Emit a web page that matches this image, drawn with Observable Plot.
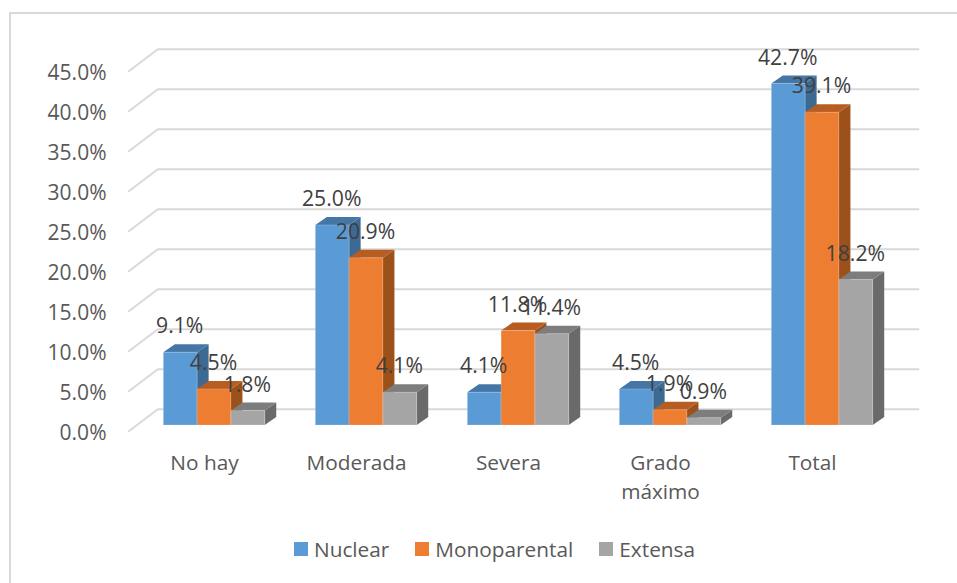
<!DOCTYPE html>
<html>
<head>
<meta charset="utf-8">
<script src="https://cdn.jsdelivr.net/npm/d3@7"></script>
<script src="https://cdn.jsdelivr.net/npm/@observablehq/plot@0.6"></script>
<style>
  html, body { margin: 0; padding: 0; background: #fff; }
  #frame { position: absolute; left: 9px; top: 12px; width: 948px; height: 571px; border-left: 2px solid #d9d9d9; border-top: 2px solid #d9d9d9; box-sizing: border-box; }
  #chart { position: absolute; left: 0; top: 0; }
  #chart svg { display: block; background: transparent; }
  #legend { position: absolute; left: 294px; top: 535px; display: flex; align-items: center; font: 20.8px "Open Sans", sans-serif; color: #595959; }
  #legend span.sw { display: inline-block; width: 14px; height: 14px; margin-right: 6px; }
  #legend span.lab { margin-right: 26px; }
</style>
</head>
<body>
<div id="frame"></div>
<div id="chart"></div>
<div id="legend"></div>
<script>
const categories = ["No hay", "Moderada", "Severa", "Grado\nmáximo", "Total"];
const seriesNames = ["Nuclear", "Monoparental", "Extensa"];
const nuclear = [9.1, 25.0, 4.1, 4.5, 42.7];
const monoparental = [4.5, 20.9, 11.8, 1.9, 39.1];
const extensa = [1.8, 4.1, 11.4, 0.9, 18.2];
const yTicks = [0, 5, 10, 15, 20, 25, 30, 35, 40, 45];
const frontColors = ["#5b9bd5", "#ed7d31", "#a5a5a5"];
const topColors = ["#4477a5", "#b85d21", "#7d7d7d"];
const sideColors = ["#3c6a93", "#9c501a", "#6a6a6a"];

const seriesValues = [nuclear, monoparental, extensa];

// Geometry in data units: one category = 1 on x, one percent = 1 on y.
const groupStart = -0.3335;
const barW = 0.2224;
const depthX = 0.0757;
const depthY = 1;

const bars = seriesValues.map((vals, j) => vals.map((v, i) => {
  const x1 = i + groupStart + j * barW;
  return { i, j, v, x1, x2: x1 + barW };
}));

const backLeft = (157.3 - 214) / 152, frontLeft = (128.3 - 214) / 152, backRight = (918 - 214) / 152;
const wallLines = yTicks.flatMap(t => [
  { t, x: frontLeft, y: t - 0.71 },
  { t, x: backLeft, y: t + 2.04 },
  { t, x: backRight, y: t + 2.04 }
]);

const barMarks = bars.flatMap((row, j) => {
  const sides = row.flatMap(b => [
    { id: b.i, x: b.x2, y1: 0, y2: b.v },
    { id: b.i, x: b.x2 + depthX, y1: depthY, y2: b.v + depthY }
  ]);
  const tops = row.flatMap(b => [
    { id: b.i, x: b.x1, y1: b.v, y2: b.v },
    { id: b.i, x: b.x1 + depthX, y1: b.v, y2: b.v + depthY },
    { id: b.i, x: b.x2, y1: b.v, y2: b.v + depthY },
    { id: b.i, x: b.x2 + depthX, y1: b.v + depthY, y2: b.v + depthY }
  ]);
  return [
    Plot.areaY(sides, { x: "x", y1: "y1", y2: "y2", z: "id", fill: sideColors[j], curve: "linear" }),
    Plot.areaY(tops, { x: "x", y1: "y1", y2: "y2", z: "id", fill: topColors[j], curve: "linear" }),
    Plot.rect(row, { x1: "x1", x2: "x2", y1: 0, y2: "v", fill: frontColors[j], stroke: "#ffffff", strokeOpacity: 0.2, strokeWidth: 1 })
  ];
});

const labelRows = bars.flat();

const chart = Plot.plot({
  width: 957,
  height: 510,
  marginLeft: 116,
  marginRight: 0,
  marginTop: 0,
  marginBottom: 0,
  style: { background: "transparent", fontFamily: "'Open Sans', sans-serif" },
  x: { domain: [(116 - 214) / 152, (957 - 214) / 152], axis: null },
  y: { domain: [-(510 - 425) / 8, 425 / 8] },
  marks: [
    Plot.line(wallLines, { x: "x", y: "y", z: "t", stroke: "#d9d9d9", strokeWidth: 2, curve: "linear" }),
    Plot.axisY({
      anchor: "left",
      ticks: yTicks,
      tickSize: 0,
      tickPadding: 10,
      tickFormat: d => d.toFixed(1) + "%",
      fontSize: 21,
      fill: "#595959",
      dy: 8,
      label: null
    }),
    ...barMarks,
    Plot.text(labelRows, {
      x: d => (d.x1 + d.x2) / 2,
      y: "v",
      text: d => d.v.toFixed(1) + "%",
      dx: -1,
      dy: -26,
      fontSize: 21.2,
      fill: "#404040",
      textAnchor: "middle"
    }),
    Plot.text(categories, {
      x: (d, i) => i,
      y: () => 0,
      text: d => d,
      dx: -10,
      dy: 24,
      lineAnchor: "top",
      lineHeight: 1.39,
      fontSize: 20.8,
      fill: "#595959"
    })
  ]
});
document.getElementById("chart").appendChild(chart);

const legend = document.getElementById("legend");
seriesNames.forEach((name, j) => {
  const sw = document.createElement("span");
  sw.className = "sw";
  sw.style.background = frontColors[j];
  const lab = document.createElement("span");
  lab.className = "lab";
  lab.textContent = name;
  legend.append(sw, lab);
});
</script>
</body>
</html>
